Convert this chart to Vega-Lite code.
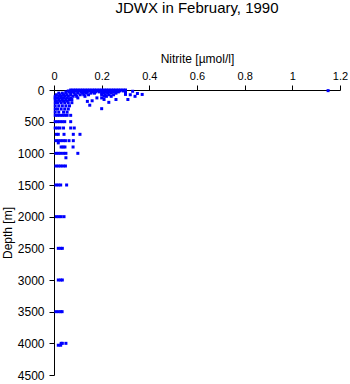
{
  "$schema": "https://vega.github.io/schema/vega-lite/v6.json",
  "autosize": "none",
  "padding": {"left": 54, "top": 90, "right": 10, "bottom": 8},
  "width": 286,
  "height": 285,
  "background": "white",
  "title": {"text": "JDWX in February, 1990", "font": "Liberation Sans", "fontSize": 15, "fontWeight": "normal", "color": "black", "frame": "group", "anchor": "middle", "offset": 36},
  "config": {"view": {"stroke": null}},
  "data": {"values": [
    {"n":0.07,"d":0},{"n":0.08,"d":0},{"n":0.09,"d":0},{"n":0.1,"d":0},{"n":0.11,"d":0},{"n":0.12,"d":0},{"n":0.13,"d":0},{"n":0.14,"d":0},{"n":0.15,"d":0},{"n":0.16,"d":0},{"n":0.17,"d":0},{"n":0.18,"d":0},{"n":0.19,"d":0},{"n":0.2,"d":0},{"n":0.21,"d":0},{"n":0.22,"d":0},{"n":0.23,"d":0},{"n":0.24,"d":0},{"n":0.25,"d":0},{"n":0.26,"d":0},{"n":0.27,"d":0},{"n":0.28,"d":0},{"n":0.29,"d":0},{"n":0.3,"d":0},{"n":1.15,"d":10},
    {"n":0.06,"d":15},{"n":0.075,"d":15},{"n":0.09,"d":15},{"n":0.105,"d":15},{"n":0.12,"d":15},{"n":0.135,"d":15},{"n":0.15,"d":15},{"n":0.165,"d":15},{"n":0.18,"d":15},{"n":0.2,"d":15},{"n":0.215,"d":15},{"n":0.23,"d":15},{"n":0.245,"d":15},{"n":0.26,"d":15},{"n":0.275,"d":15},{"n":0.29,"d":15},{"n":0.33,"d":20},
    {"n":0.05,"d":30},{"n":0.065,"d":30},{"n":0.08,"d":30},{"n":0.1,"d":30},{"n":0.115,"d":30},{"n":0.13,"d":30},{"n":0.14,"d":30},{"n":0.16,"d":30},{"n":0.175,"d":30},{"n":0.19,"d":30},{"n":0.205,"d":30},{"n":0.22,"d":30},{"n":0.235,"d":30},{"n":0.25,"d":30},{"n":0.27,"d":30},{"n":0.3,"d":30},
    {"n":0.02,"d":50},{"n":0.035,"d":50},{"n":0.05,"d":50},{"n":0.07,"d":50},{"n":0.085,"d":50},{"n":0.1,"d":50},{"n":0.12,"d":50},{"n":0.135,"d":50},{"n":0.155,"d":50},{"n":0.17,"d":50},{"n":0.2,"d":50},{"n":0.21,"d":50},{"n":0.225,"d":50},{"n":0.24,"d":50},{"n":0.26,"d":50},{"n":0.35,"d":55},
    {"n":0.01,"d":75},{"n":0.025,"d":75},{"n":0.04,"d":75},{"n":0.055,"d":75},{"n":0.07,"d":75},{"n":0.09,"d":75},{"n":0.11,"d":75},{"n":0.125,"d":75},{"n":0.145,"d":75},{"n":0.2,"d":75},{"n":0.215,"d":75},{"n":0.23,"d":75},{"n":0.25,"d":75},{"n":0.3,"d":70},{"n":0.32,"d":75},{"n":0.37,"d":70},
    {"n":0.005,"d":100},{"n":0.02,"d":100},{"n":0.03,"d":100},{"n":0.045,"d":100},{"n":0.06,"d":100},{"n":0.08,"d":100},{"n":0.095,"d":100},{"n":0.13,"d":100},{"n":0.21,"d":100},{"n":0.22,"d":100},{"n":0.24,"d":100},{"n":0.34,"d":100},
    {"n":0.005,"d":125},{"n":0.015,"d":125},{"n":0.03,"d":125},{"n":0.04,"d":125},{"n":0.055,"d":125},{"n":0.07,"d":125},{"n":0.1,"d":125},{"n":0.18,"d":125},{"n":0.2,"d":125},
    {"n":0.005,"d":150},{"n":0.02,"d":150},{"n":0.035,"d":150},{"n":0.05,"d":150},{"n":0.065,"d":150},{"n":0.075,"d":150},{"n":0.16,"d":170},{"n":0.21,"d":150},{"n":0.26,"d":150},{"n":0.31,"d":150},
    {"n":0.01,"d":175},{"n":0.025,"d":175},{"n":0.04,"d":175},{"n":0.055,"d":175},{"n":0.14,"d":180},
    {"n":0.005,"d":200},{"n":0.015,"d":200},{"n":0.03,"d":200},{"n":0.045,"d":200},{"n":0.06,"d":200},{"n":0.075,"d":200},{"n":0.23,"d":195},
    {"n":0.005,"d":250},{"n":0.02,"d":250},{"n":0.035,"d":250},{"n":0.05,"d":250},{"n":0.065,"d":250},{"n":0.15,"d":240},
    {"n":0.005,"d":300},{"n":0.015,"d":300},{"n":0.03,"d":300},{"n":0.045,"d":300},{"n":0.06,"d":300},{"n":0.2,"d":295},
    {"n":0.005,"d":350},{"n":0.02,"d":350},{"n":0.04,"d":350},{"n":0.055,"d":350},
    {"n":0.005,"d":400},{"n":0.015,"d":400},{"n":0.025,"d":400},{"n":0.035,"d":400},{"n":0.045,"d":400},{"n":0.055,"d":400},{"n":0.07,"d":400},
    {"n":0.005,"d":500},{"n":0.015,"d":500},{"n":0.025,"d":500},{"n":0.035,"d":500},{"n":0.045,"d":500},{"n":0.07,"d":500},
    {"n":0.005,"d":600},{"n":0.015,"d":600},{"n":0.025,"d":600},{"n":0.04,"d":600},{"n":0.07,"d":600},{"n":0.085,"d":600},
    {"n":0.01,"d":700},{"n":0.018,"d":700},{"n":0.042,"d":700},{"n":0.081,"d":700},{"n":0.109,"d":700},
    {"n":0.008,"d":800},{"n":0.018,"d":800},{"n":0.028,"d":800},{"n":0.038,"d":800},{"n":0.048,"d":800},{"n":0.063,"d":800},{"n":0.081,"d":800},{"n":0.018,"d":835},
    {"n":0.03,"d":900},{"n":0.038,"d":900},{"n":0.046,"d":900},{"n":0.08,"d":900},
    {"n":0.008,"d":1000},{"n":0.018,"d":1000},{"n":0.028,"d":1000},{"n":0.04,"d":1000},{"n":0.05,"d":1000},{"n":0.1,"d":1000},
    {"n":0.05,"d":1070},
    {"n":0.008,"d":1200},{"n":0.018,"d":1200},{"n":0.028,"d":1200},{"n":0.038,"d":1200},{"n":0.048,"d":1200},
    {"n":0.008,"d":1500},{"n":0.018,"d":1500},{"n":0.028,"d":1500},{"n":0.053,"d":1500},
    {"n":0.01,"d":2000},{"n":0.02,"d":2000},{"n":0.03,"d":2000},{"n":0.042,"d":2000},
    {"n":0.018,"d":2500},{"n":0.028,"d":2500},{"n":0.035,"d":2500},
    {"n":0.018,"d":3000},{"n":0.028,"d":3000},{"n":0.035,"d":3000},
    {"n":0.008,"d":3500},{"n":0.018,"d":3500},{"n":0.028,"d":3500},{"n":0.034,"d":3500},
    {"n":0.03,"d":4000},{"n":0.035,"d":4000},{"n":0.05,"d":4000},{"n":0.018,"d":4030},{"n":0.028,"d":4030}
  ]},
  "mark": {"type": "point", "shape": "square", "filled": true, "size": 9, "color": "#0000ff", "opacity": 1, "strokeWidth": 0},
  "encoding": {
    "x": {"field": "n", "type": "quantitative",
      "scale": {"domain": [0, 1.2], "nice": false, "zero": false},
      "axis": {"orient": "top", "title": "Nitrite [µmol/l]", "values": [0, 0.2, 0.4, 0.6, 0.8, 1, 1.2], "format": "~g", "grid": false,
        "domainColor": "black", "tickColor": "black", "tickSize": 5, "labelPadding": 4, "labelFlush": false, "labelOverlap": false,
        "labelFont": "Liberation Sans", "labelFontSize": 11, "labelColor": "black",
        "titleFont": "Liberation Sans", "titleFontSize": 12, "titleFontWeight": "normal", "titleColor": "black", "titlePadding": 5}},
    "y": {"field": "d", "type": "quantitative",
      "scale": {"domain": [0, 4500], "reverse": true, "nice": false, "zero": false},
      "axis": {"title": "Depth [m]", "values": [0, 500, 1000, 1500, 2000, 2500, 3000, 3500, 4000, 4500], "format": "d", "grid": false,
        "domainColor": "black", "tickColor": "black", "tickSize": 5, "labelPadding": 5, "labelFlush": false, "labelOverlap": false,
        "labelFont": "Liberation Sans", "labelFontSize": 12, "labelColor": "black",
        "titleFont": "Liberation Sans", "titleFontSize": 12, "titleFontWeight": "normal", "titleColor": "black", "titlePadding": 3}}
  }
}
